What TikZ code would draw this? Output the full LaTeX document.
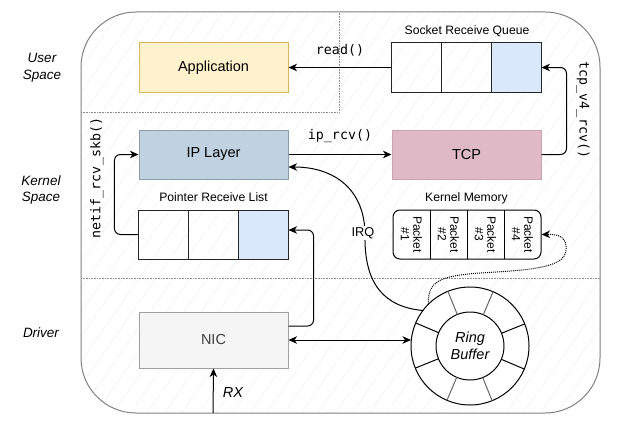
\documentclass[tikz,border=0pt]{standalone}
\usepackage{fontspec}
\setmainfont{Liberation Sans}
\setmonofont{DejaVu Sans Mono}
\usetikzlibrary{arrows.meta,patterns.meta}

\definecolor{appfill}{HTML}{FFF2CC}
\definecolor{appline}{HTML}{D6B656}
\definecolor{ipfill}{HTML}{C0D1E1}
\definecolor{ipline}{HTML}{8C9CAA}
\definecolor{tcpfill}{HTML}{DFB9C6}
\definecolor{tcpline}{HTML}{C9A3B1}
\definecolor{nicfill}{HTML}{F5F5F5}
\definecolor{nicline}{HTML}{A0A0A0}
\definecolor{slotfill}{HTML}{DAE8FC}

\tikzset{
  layerbox/.style={draw, line width=1pt, minimum width=149pt, minimum height=49pt, inner sep=0pt, font=\fontsize{14.5}{16}\selectfont},
  slot/.style={draw=black!85, line width=1pt, minimum width=49.67pt, minimum height=49pt, inner sep=0pt},
  caption/.style={font=\fontsize{12.2}{14}\selectfont},
  func/.style={font=\ttfamily\fontsize{13.3}{15}\selectfont},
  side/.style={font=\itshape\fontsize{13.5}{16.5}\selectfont, align=center},
  packet/.style={font=\fontsize{12}{12.5}\selectfont, align=center, rotate=-90},
  flow/.style={line width=1pt, -{Stealth[length=8.5pt,width=7.5pt,inset=2.5pt]}},
  sep/.style={densely dotted, black!45, line width=0.6pt}
}

\begin{document}
\begin{tikzpicture}[x=1pt,y=-1pt]
\useasboundingbox (0,0) rectangle (631,428);
\draw[black!50, line width=1pt, rounded corners=55pt,
      pattern={Lines[distance=14pt,angle=55,line width=0.5pt]}, pattern color=black!6]
  (81,12) rectangle (600,413);

\draw[sep] (81,112) -- (339,112) -- (339,12);
\draw[sep] (81,278) -- (600,278);

\node[side] (user) at (42,68) {User\\Space};
\node[side] (kernel) at (41,190) {Kernel\\Space};
\node[side] (driver) at (41,333) {Driver};

\node[layerbox, fill=appfill, draw=appline] (app) at (213.5,67.5) {Application};
\node[layerbox, fill=ipfill, draw=ipline] (ip) at (213.5,154.5) {IP Layer};
\node[layerbox, fill=tcpfill, draw=tcpline] (tcp) at (466.5,154.5) {TCP};
\node[layerbox, fill=nicfill, draw=nicline, minimum height=56pt, text=black!75] (nic) at (213.5,340) {NIC};

\node[slot] (sq1) at (416.8,67.5) {};
\node[slot] (sq2) at (466.5,67.5) {};
\node[slot, fill=slotfill] (sq3) at (516.2,67.5) {};
\node[caption] (sqlabel) at (467,31) {Socket Receive Queue};

\node[slot] (pl1) at (163.8,234.5) {};
\node[slot] (pl2) at (213.5,234.5) {};
\node[slot, fill=slotfill] (pl3) at (263.2,234.5) {};
\node[caption] (pllabel) at (213.5,197) {Pointer Receive List};

\node[draw, line width=1pt, rounded corners=7pt, minimum width=148pt, minimum height=49pt, inner sep=0pt] (km) at (467,234.5) {};
\draw[line width=1pt] (430,210) -- (430,259) (467,210) -- (467,259) (504,210) -- (504,259);
\node[packet] (pk1) at (411.5,234.5) {Packet\\\#1};
\node[packet] (pk2) at (448.5,234.5) {Packet\\\#2};
\node[packet] (pk3) at (485.5,234.5) {Packet\\\#3};
\node[packet] (pk4) at (522.5,234.5) {Packet\\\#4};
\node[caption] (kmlabel) at (466.5,198) {Kernel Memory};

\node[draw, circle, line width=1pt, minimum size=118pt, inner sep=0pt, outer sep=0pt, fill=white] (ring) at (470,346) {};
\node[draw, circle, line width=1pt, minimum size=68pt, inner sep=0pt, outer sep=0pt,
      font=\itshape\fontsize{14.5}{17}\selectfont, align=center] (ringin) at (470,346) {Ring\\Buffer};
\foreach \a in {22.5,157.5,202.5,337.5}
  \draw[line width=1pt] (ring.\a) -- (ringin.\a);
\foreach \a in {67.5,112.5,247.5,292.5}
  \draw[line width=1pt, black!60] (ring.\a) -- (ringin.\a);

\coordinate (rxin) at (213,413);
\draw[flow] (rxin) -- (nic.south);
\node[font=\itshape\fontsize{14.5}{16}\selectfont] (rxlabel) at (233,393) {RX};

\draw[flow] (sq1.west) -- (app.east);
\node[func] (readlabel) at (340,50) {read()};
\draw[flow] (ip.east) -- (tcp.west);
\node[func] (iplabel) at (340,136) {ip\_rcv()};
\draw[flow, rounded corners=6pt] (tcp.east) -- ++(25,0) |- (sq3.east);
\node[func, rotate=-90] (tcplabel) at (583,110) {tcp\_v4\_rcv()};
\draw[flow, rounded corners=6pt] (pl1.west) -- ++(-24,0) |- (ip.west);
\node[func, rotate=90] (netiflabel) at (97,178) {netif\_rcv\_skb()};
\draw[flow, rounded corners=6pt] ([yshift=14pt]nic.east) -| ([xshift=25pt,yshift=4.5pt]pl3.east) -- ([yshift=4.5pt]pl3.east);
\draw[line width=1pt, {Stealth[length=8.5pt,width=7.5pt,inset=2.5pt]}-{Stealth[length=8.5pt,width=7.5pt,inset=2.5pt]}]
  (nic.east) -- (nic.east -| ring.west);

\coordinate (irqend) at ([yshift=-12.5pt]ip.east);
\draw[flow] (ring.143) .. controls (385,307) and (364,285) .. (365,235)
  .. controls (365,190) and (335,167) .. (irqend);
\node[caption, fill=white, inner sep=1pt, font=\fontsize{12.8}{14}\selectfont] (irq) at (363,233) {IRQ};
\draw[densely dotted, line width=1pt, -{Stealth[length=8.5pt,width=7.5pt,inset=2.5pt]}]
  (ring.135) .. controls (428,282) and (438,276) .. (480,273)
  .. controls (530,270) and (565,268) .. (566,250)
  .. controls (567,238) and (560,234) .. (km.east);
\end{tikzpicture}
\end{document}
